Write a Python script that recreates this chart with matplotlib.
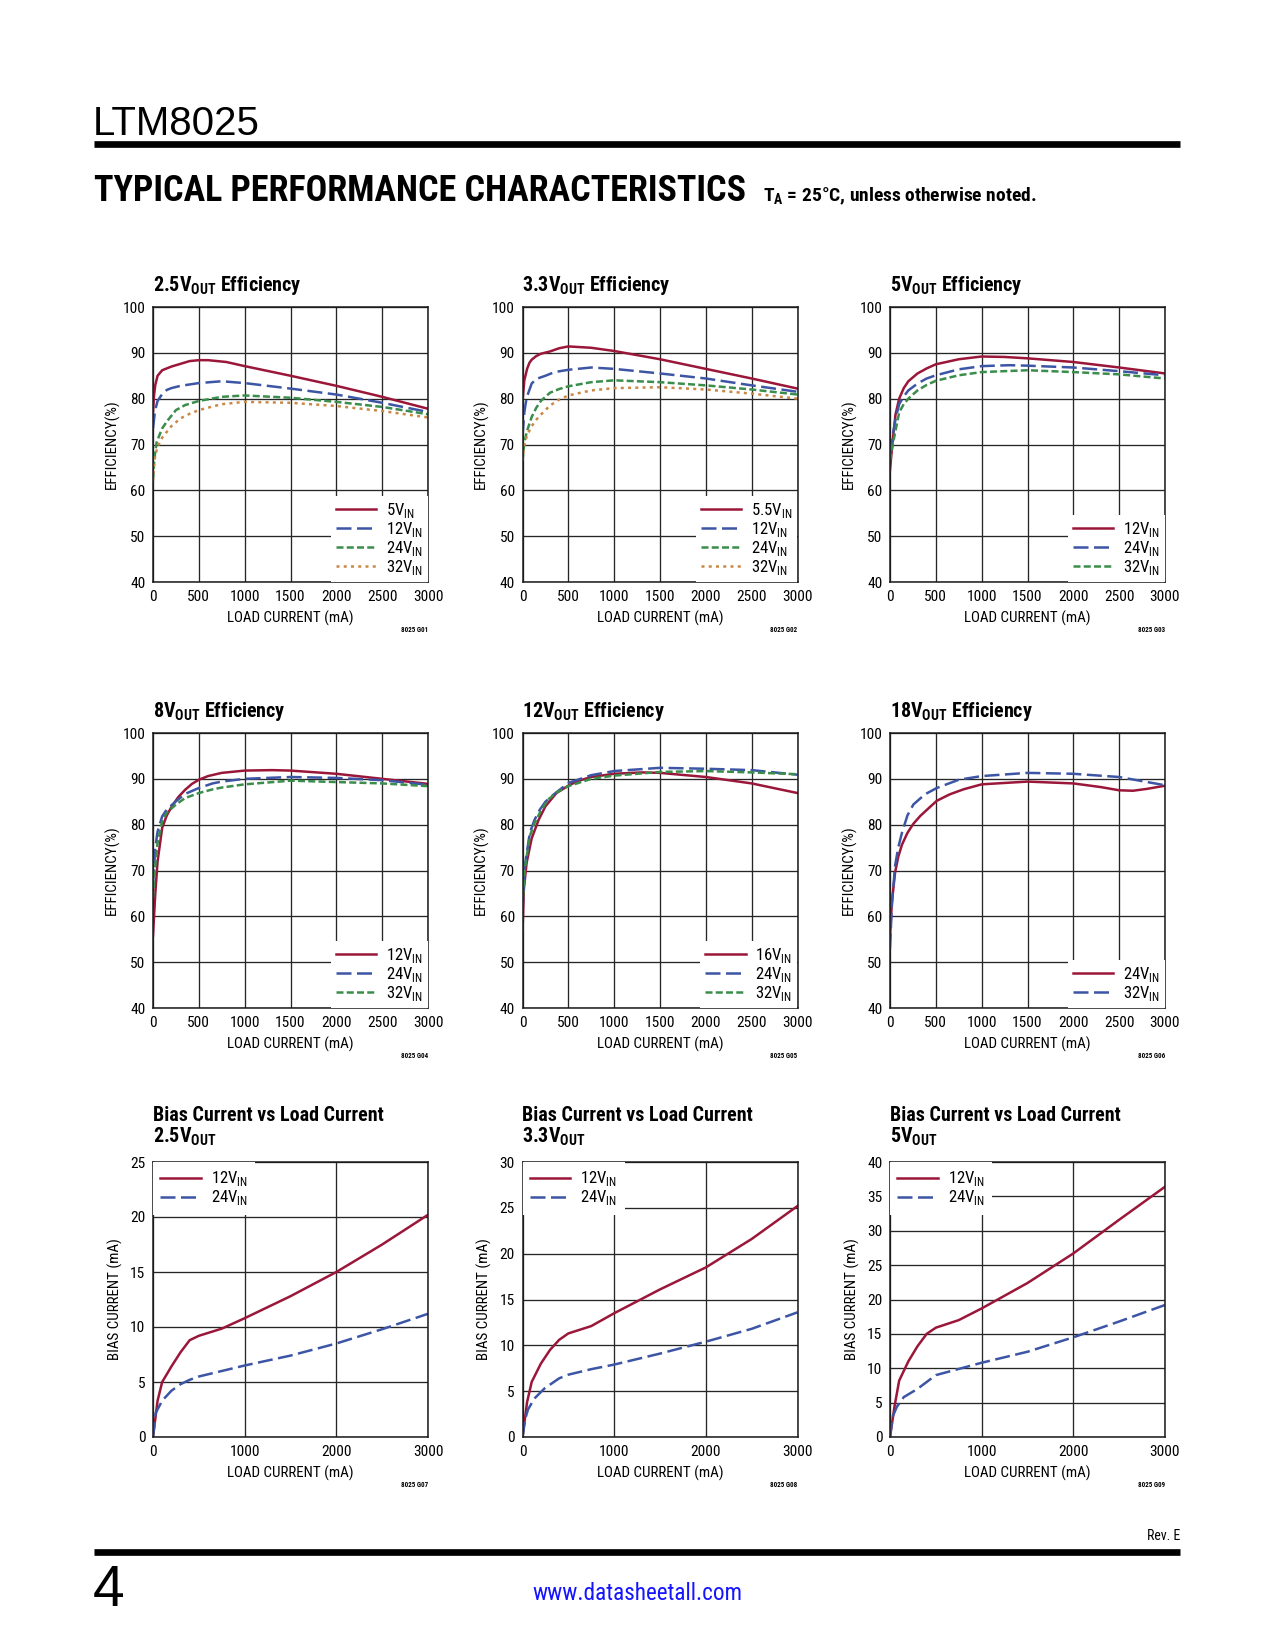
import matplotlib
matplotlib.use('Agg')
import matplotlib.pyplot as plt
from matplotlib.lines import Line2D
from matplotlib import font_manager

# ---------------- data ----------------
# 2.5VOUT efficiency
e25_5v_x = [0, 10, 25, 50, 100, 150, 200, 250, 300, 350, 400, 500, 600, 800, 1000, 1500, 2000, 2500, 3000]
e25_5v_y = [77, 80.5, 83, 85, 86.2, 86.6, 87, 87.3, 87.6, 87.9, 88.2, 88.4, 88.4, 88.0, 87.1, 85.0, 82.8, 80.4, 77.8]
e25_12v_x = [0, 20, 30, 50, 100, 150, 200, 300, 500, 750, 1000, 1500, 2000, 2500, 3000]
e25_12v_y = [73.5, 77, 78, 79.5, 81, 81.9, 82.3, 82.8, 83.4, 83.8, 83.4, 82.2, 80.9, 79.1, 77.1]
e25_24v_x = [0, 15, 40, 75, 100, 150, 250, 350, 500, 750, 1000, 1500, 2000, 2500, 3000]
e25_24v_y = [62.5, 67, 70.5, 72.3, 73.5, 75, 77.5, 78.6, 79.5, 80.4, 80.7, 80.2, 79.3, 78.2, 76.6]
e25_32v_x = [0, 15, 30, 50, 100, 200, 300, 400, 500, 650, 750, 1000, 1500, 2000, 2500, 3000]
e25_32v_y = [62, 66.5, 68, 69.5, 71.5, 74, 75.7, 76.7, 77.5, 78.3, 78.8, 79.3, 79.1, 78.4, 77.3, 75.9]

# 3.3VOUT efficiency
e33_55v_x = [0, 20, 50, 75, 100, 150, 200, 300, 400, 500, 750, 1000, 1500, 2000, 2500, 3000]
e33_55v_y = [79.5, 84, 86.5, 87.8, 88.5, 89.3, 89.8, 90.3, 91.0, 91.4, 91.1, 90.4, 88.6, 86.5, 84.4, 82.2]
e33_12v_x = [0, 20, 35, 50, 100, 150, 250, 350, 500, 750, 1000, 1500, 2000, 2500, 3000]
e33_12v_y = [72, 77, 79, 80.5, 83.3, 84.3, 85, 85.8, 86.3, 86.8, 86.5, 85.5, 84.4, 82.9, 81.5]
e33_24v_x = [0, 20, 50, 100, 150, 200, 300, 400, 500, 750, 1000, 1500, 2000, 2500, 3000]
e33_24v_y = [66.5, 70.5, 73, 76, 78, 79.5, 81.3, 82.1, 82.7, 83.6, 84, 83.6, 82.9, 82, 80.9]
e33_32v_x = [0, 20, 50, 100, 150, 200, 300, 400, 500, 750, 1000, 1500, 2000, 2500, 3000]
e33_32v_y = [66.5, 70, 72, 74, 75.4, 76.5, 78.5, 79.8, 80.7, 81.8, 82.3, 82.5, 82, 81.1, 80]

# 5VOUT efficiency
e5_12v_x = [0, 30, 60, 100, 150, 200, 300, 400, 500, 750, 1000, 1250, 1500, 2000, 2500, 3000]
e5_12v_y = [64.5, 71, 76.5, 80, 82.3, 83.8, 85.5, 86.6, 87.5, 88.6, 89.2, 89.1, 88.8, 88, 86.8, 85.5]
e5_24v_x = [0, 30, 60, 100, 150, 200, 300, 400, 500, 750, 1000, 1300, 1500, 2000, 2500, 3000]
e5_24v_y = [68, 72, 75.5, 78.8, 80.5, 81.8, 83.3, 84.4, 85.1, 86.4, 87.1, 87.3, 87.2, 86.8, 86, 85.1]
e5_32v_x = [0, 30, 60, 100, 150, 200, 300, 400, 500, 750, 1000, 1500, 2000, 2500, 3000]
e5_32v_y = [66.5, 70, 73, 77, 78.8, 80, 81.8, 83, 83.9, 85.1, 85.8, 86.2, 85.8, 85.3, 84.4]

# 8VOUT efficiency
e8_12v_x = [0, 25, 50, 100, 150, 200, 275, 350, 425, 500, 600, 750, 1000, 1300, 1500, 2000, 2500, 3000]
e8_12v_y = [55.8, 65, 72, 79.3, 82, 83.8, 86, 87.6, 88.9, 89.8, 90.6, 91.3, 91.8, 91.9, 91.8, 91.1, 90.0, 88.9]
e8_24v_x = [0, 25, 50, 100, 150, 250, 350, 500, 650, 750, 1000, 1500, 2000, 2500, 3000]
e8_24v_y = [67, 75, 78.5, 81.8, 83.3, 85.1, 86.7, 88, 89.0, 89.4, 90, 90.4, 90.2, 89.7, 88.7]
e8_32v_x = [0, 25, 50, 100, 150, 250, 350, 500, 650, 750, 1000, 1500, 2000, 2500, 3000]
e8_32v_y = [64, 71, 76, 80.8, 82.6, 84.4, 85.8, 86.9, 87.7, 88.1, 88.8, 89.6, 89.3, 89, 88.4]

# 12VOUT efficiency
e12_16v_x = [0, 15, 45, 100, 175, 250, 370, 500, 600, 750, 1000, 1300, 1500, 2000, 2500, 3000]
e12_16v_y = [56.5, 66, 71.7, 77, 81, 84, 86.9, 88.5, 89.5, 90.4, 91.1, 91.4, 91.3, 90.4, 89, 86.9]
e12_24v_x = [0, 25, 80, 130, 190, 250, 335, 500, 750, 1000, 1500, 2000, 2500, 3000]
e12_24v_y = [61, 71, 78.2, 81, 83.3, 85, 86.5, 89.1, 90.8, 91.7, 92.4, 92.2, 91.9, 90.9]
e12_32v_x = [0, 25, 80, 130, 190, 270, 370, 500, 750, 1000, 1500, 2000, 2500, 3000]
e12_32v_y = [62, 70.3, 77.5, 80.3, 82.6, 85.3, 87, 88.4, 90, 90.7, 91.5, 91.7, 91.4, 91]

# 18VOUT efficiency
e18_24v_x = [0, 20, 55, 90, 130, 190, 255, 330, 400, 510, 650, 800, 1000, 1500, 2000, 2300, 2500, 2650, 2800, 3000]
e18_24v_y = [55.5, 63, 69.5, 73.0, 75.6, 78.2, 80.2, 81.9, 83.2, 85.2, 86.6, 87.7, 88.8, 89.4, 89, 88.2, 87.5, 87.4, 87.8, 88.5]
e18_32v_x = [0, 20, 55, 90, 130, 190, 255, 380, 510, 750, 1000, 1500, 2000, 2500, 3000]
e18_32v_y = [53, 62.3, 71, 75, 78.2, 82, 84.4, 86.6, 88, 89.8, 90.6, 91.3, 91.1, 90.4, 88.6]

# Bias current vs load current
b25_12v_x = [0, 50, 100, 200, 300, 400, 500, 750, 1000, 1500, 2000, 2500, 3000]
b25_12v_y = [0, 3.3, 5.0, 6.4, 7.7, 8.8, 9.2, 9.85, 10.8, 12.8, 15, 17.5, 20.2]
b25_24v_x = [0, 30, 100, 200, 300, 400, 500, 750, 1000, 1500, 2000, 2500, 3000]
b25_24v_y = [0, 2.2, 3.3, 4.2, 4.8, 5.2, 5.5, 6.0, 6.5, 7.4, 8.5, 9.8, 11.2]
b33_12v_x = [0, 50, 100, 200, 300, 400, 500, 750, 1000, 1500, 2000, 2500, 3000]
b33_12v_y = [0, 3.8, 6.0, 8.0, 9.5, 10.6, 11.3, 12.1, 13.5, 16.1, 18.5, 21.6, 25.2]
b33_24v_x = [0, 30, 60, 130, 240, 400, 500, 750, 1000, 1500, 2000, 2500, 3000]
b33_24v_y = [0, 2.0, 3.0, 4.2, 5.3, 6.4, 6.8, 7.4, 7.9, 9.1, 10.4, 11.8, 13.6]
b5_12v_x = [0, 50, 100, 200, 300, 400, 500, 750, 1000, 1500, 2000, 2500, 3000]
b5_12v_y = [0, 4.5, 8.2, 11.0, 13.2, 15.0, 15.9, 17.0, 18.7, 22.4, 26.7, 31.6, 36.4]
b5_24v_x = [0, 30, 75, 150, 300, 400, 500, 750, 1000, 1500, 2000, 2500, 3000]
b5_24v_y = [0, 3.0, 4.4, 5.8, 7.0, 8.0, 9.0, 9.9, 10.8, 12.4, 14.5, 16.8, 19.2]

eff_xticks = [0, 500, 1000, 1500, 2000, 2500, 3000]
eff_yticks = [40, 50, 60, 70, 80, 90, 100]
bias_xticks = [0, 1000, 2000, 3000]

# ---------------- fonts ----------------
W, H = 1275, 1650
REG = ['Liberation Sans', 'DejaVu Sans']
_cond = ('condensed', 'semi-condensed', 'extra-condensed', 'ultra-condensed')
_names = {f.name for f in font_manager.fontManager.ttflist}
NARROW_NAME = None
NARROW_STRETCH = 'normal'
if 'Liberation Sans Narrow' in _names:
    NARROW_NAME = 'Liberation Sans Narrow'
else:
    for pref in ['Roboto Condensed', 'Open Sans Condensed', 'Noto Sans Condensed', 'DejaVu Sans Condensed']:
        if pref in _names:
            NARROW_NAME = pref
            break
    if NARROW_NAME is None:
        for fam in ['Roboto', 'Noto Sans', 'Open Sans', 'DejaVu Sans']:
            ents = [f for f in font_manager.fontManager.ttflist
                    if f.name == fam and str(f.stretch) in _cond]
            if ents:
                NARROW_NAME = fam
                NARROW_STRETCH = str(ents[0].stretch)
                break
if NARROW_NAME is None:
    NARROW_NAME = 'Liberation Sans'

plt.rcParams['font.family'] = [NARROW_NAME, 'Liberation Sans', 'DejaVu Sans']
plt.rcParams['font.stretch'] = NARROW_STRETCH
plt.rcParams['axes.linewidth'] = 1.1

RED = '#9A1739'
BLUE = '#3D55A5'
GREEN = '#3A8D4B'
ORANGE = '#C98845'
LW = 1.8
STY = {
    'solid': dict(color=RED, linestyle='-'),
    'long': dict(color=BLUE, dashes=(6.0, 2.2)),
    'short': dict(color=GREEN, dashes=(2.8, 1.3)),
    'dot': dict(color=ORANGE, dashes=(1.2, 1.7)),
}

fig = plt.figure(figsize=(W / 100, H / 100), dpi=100)
RENDERER = fig.canvas.get_renderer()


def fx(x):
    return x / W


def fy(y):
    return 1 - y / H


def sub(base, s):
    return base + r'$_\mathregular{' + s + '}$'


def fit_size(s, width, cap, **kw):
    t = fig.text(0, 0, s, fontsize=10, **kw)
    w = t.get_window_extent(RENDERER).width
    t.remove()
    return min(cap, 10 * width / w)


SZ_TICK = fit_size('3000', 30, 11.5)
SZ_AXL = fit_size('LOAD CURRENT (mA)', 127, 11)
SZ_LEG = min(12, SZ_TICK * 1.08)
SZ_TITLE = fit_size('Bias Current vs Load Current', 230, 14.5, fontweight='bold')
SZ_HEAD = fit_size('TYPICAL PERFORMANCE CHARACTERISTICS', 651, 30, fontweight='heavy')
SZ_SUBH = fit_size(r'T$_\mathregular{A}$ = 25°C, unless otherwise noted.', 280, 14, fontweight='bold')
SZ_URL = fit_size('www.datasheetall.com', 208, 18)
SZ_REV = fit_size('Rev. E', 34, 10)
SZ_FID = fit_size('8025 G01', 27, 7, fontweight='bold')

# page header
fig.text(fx(93), fy(135), 'LTM8025', family=REG, fontsize=29, va='baseline', ha='left')
fig.add_artist(Line2D([fx(94), fx(1180)], [fy(144), fy(144)], color='black', lw=4.8,
                      solid_capstyle='butt'))
fig.text(fx(94), fy(201), 'TYPICAL PERFORMANCE CHARACTERISTICS', fontsize=SZ_HEAD,
         fontweight='heavy', va='baseline', ha='left')
fig.text(fx(763), fy(201), r'T$_\mathregular{A}$ = 25°C, unless otherwise noted.', fontsize=SZ_SUBH,
         fontweight='bold', va='baseline', ha='left')

# footer
fig.text(fx(1180), fy(1540), 'Rev. E', fontsize=SZ_REV, ha='right', va='baseline')
fig.add_artist(Line2D([fx(94), fx(1180)], [fy(1552), fy(1552)], color='black', lw=4.8,
                      solid_capstyle='butt'))
fig.text(fx(93), fy(1606), '4', family=REG, fontsize=41, ha='left', va='baseline')
fig.text(fx(637), fy(1600), 'www.datasheetall.com', fontsize=SZ_URL, color='#1414FF',
         ha='center', va='baseline')

COLS = [153, 522.5, 890]
ROWS = [307, 733, 1162]
SIZE = 275

eff_panels = [
    dict(r=0, c=0, t='2.5', fid='8025 G01',
         series=[(e25_5v_x, e25_5v_y, 'solid', '5'), (e25_12v_x, e25_12v_y, 'long', '12'),
                 (e25_24v_x, e25_24v_y, 'short', '24'), (e25_32v_x, e25_32v_y, 'dot', '32')]),
    dict(r=0, c=1, t='3.3', fid='8025 G02',
         series=[(e33_55v_x, e33_55v_y, 'solid', '5.5'), (e33_12v_x, e33_12v_y, 'long', '12'),
                 (e33_24v_x, e33_24v_y, 'short', '24'), (e33_32v_x, e33_32v_y, 'dot', '32')]),
    dict(r=0, c=2, t='5', fid='8025 G03',
         series=[(e5_12v_x, e5_12v_y, 'solid', '12'), (e5_24v_x, e5_24v_y, 'long', '24'),
                 (e5_32v_x, e5_32v_y, 'short', '32')]),
    dict(r=1, c=0, t='8', fid='8025 G04',
         series=[(e8_12v_x, e8_12v_y, 'solid', '12'), (e8_24v_x, e8_24v_y, 'long', '24'),
                 (e8_32v_x, e8_32v_y, 'short', '32')]),
    dict(r=1, c=1, t='12', fid='8025 G05',
         series=[(e12_16v_x, e12_16v_y, 'solid', '16'), (e12_24v_x, e12_24v_y, 'long', '24'),
                 (e12_32v_x, e12_32v_y, 'short', '32')]),
    dict(r=1, c=2, t='18', fid='8025 G06',
         series=[(e18_24v_x, e18_24v_y, 'solid', '24'), (e18_32v_x, e18_32v_y, 'long', '32')]),
]

bias_panels = [
    dict(c=0, t='2.5', fid='8025 G07', ymax=25, ystep=5,
         series=[(b25_12v_x, b25_12v_y, 'solid', '12'), (b25_24v_x, b25_24v_y, 'long', '24')]),
    dict(c=1, t='3.3', fid='8025 G08', ymax=30, ystep=5,
         series=[(b33_12v_x, b33_12v_y, 'solid', '12'), (b33_24v_x, b33_24v_y, 'long', '24')]),
    dict(c=2, t='5', fid='8025 G09', ymax=40, ystep=5,
         series=[(b5_12v_x, b5_12v_y, 'solid', '12'), (b5_24v_x, b5_24v_y, 'long', '24')]),
]


def make_axes(left, top):
    ax = fig.add_axes([fx(left), fy(top + SIZE), SIZE / W, SIZE / H])
    ax.set_axisbelow(True)
    ax.grid(True, color='#262626', lw=0.95)
    ax.tick_params(length=0, labelsize=SZ_TICK, pad=5.5)
    for s in ax.spines.values():
        s.set_color('#1a1a1a')
    return ax


def draw_series(ax, series):
    for x, y, st, lab in series:
        ax.plot(x, y, lw=LW, label=sub(lab + 'V', 'IN'), **STY[st])


def label_axes(ax, ylabel, left, top, fid, xoff):
    ax.set_xlabel('LOAD CURRENT (mA)', fontsize=SZ_AXL, va='center')
    ax.xaxis.set_label_coords(0.5, -36 / SIZE)
    ax.set_ylabel(ylabel, fontsize=SZ_AXL, va='center')
    ax.yaxis.set_label_coords(-xoff / SIZE, 0.5)
    fig.text(fx(left + SIZE), fy(top + SIZE + 48), fid, fontsize=SZ_FID, fontweight='bold',
             ha='right', va='center')


LEG_KW = dict(borderaxespad=0, frameon=True, fancybox=False, framealpha=1, edgecolor='none',
              facecolor='white', handletextpad=0.6, labelspacing=0.0, fontsize=SZ_LEG)

for p in eff_panels:
    left, top = COLS[p['c']], ROWS[p['r']]
    ax = make_axes(left, top)
    draw_series(ax, p['series'])
    ax.set_xlim(0, 3000)
    ax.set_ylim(40, 100)
    ax.set_xticks(eff_xticks)
    ax.set_yticks(eff_yticks)
    label_axes(ax, 'EFFICIENCY(%)', left, top, p['fid'], 41)
    fig.text(fx(left), fy(top - 16), sub(p['t'] + 'V', 'OUT') + ' Efficiency', fontsize=SZ_TITLE,
             fontweight='bold', ha='left', va='baseline')
    ax.legend(loc='lower right', bbox_to_anchor=(1, 0), borderpad=0.3,
              handlelength=29.0 / SZ_LEG, **LEG_KW)

for p in bias_panels:
    left, top = COLS[p['c']], ROWS[2]
    ax = make_axes(left, top)
    draw_series(ax, p['series'])
    ax.set_xlim(0, 3000)
    ax.set_ylim(0, p['ymax'])
    ax.set_xticks(bias_xticks)
    ax.set_yticks(list(range(0, p['ymax'] + 1, p['ystep'])))
    label_axes(ax, 'BIAS CURRENT (mA)', left, top, p['fid'], 38)
    fig.text(fx(left), fy(top - 41), 'Bias Current vs Load Current', fontsize=SZ_TITLE,
             fontweight='bold', ha='left', va='baseline')
    fig.text(fx(left), fy(top - 19), sub(p['t'] + 'V', 'OUT'), fontsize=SZ_TITLE,
             fontweight='bold', ha='left', va='baseline')
    ax.legend(loc='upper left', bbox_to_anchor=(0, 1), borderpad=0.45,
              handlelength=29.0 / SZ_LEG, **LEG_KW)

fig.savefig('out.png', dpi=100, facecolor='white')
